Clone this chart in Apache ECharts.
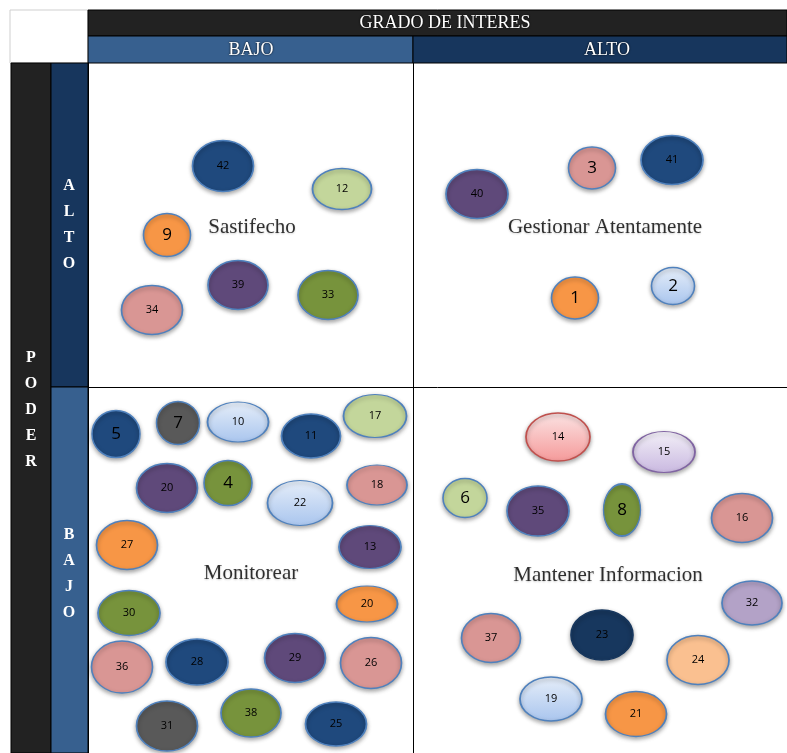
<!DOCTYPE html>
<html>
<head>
<meta charset="utf-8">
<script src="https://cdn.jsdelivr.net/npm/echarts@6/dist/echarts.min.js"></script>
<style>
  html, body { margin: 0; padding: 0; background: #fff; }
  #chart { width: 787px; height: 753px; }
</style>
</head>
<body>
<div id="chart"></div>
<script>
// Stakeholder ids (labels), interest (x) and power (y) scores, colour key
const stakeholderIds = ['42', '12', '9', '39', '33', '34',
  '40', '3', '41', '1', '2',
  '5', '7', '10', '11', '17', '20', '4', '22', '18', '27', '13',
  '20', '30', '36', '28', '29', '26', '31', '38', '25',
  '14', '15', '6', '35', '8', '16', '32', '37', '23', '24', '19', '21'];
const interest = [135, 254, 79, 150, 240, 64,
  389, 504, 584, 487, 585,
  28, 90, 150, 223, 287, 79, 140, 212, 289, 39, 282,
  279, 41, 34, 109, 207, 283, 79, 163, 248,
  470, 576, 377, 450, 534, 654, 664, 403, 514, 610, 463, 548];
const power = [587, 564, 518, 468, 458, 443,
  559, 585, 593, 455, 467,
  319, 330, 331, 317, 337, 265, 270, 250, 268, 208, 206,
  149, 140, 86, 91, 95, 90, 27, 40, 29,
  316, 301, 255, 242, 243, 235, 150, 115, 118, 93, 54, 39];
const colorKeys = ['navy', 'lime', 'orange', 'purple', 'olive', 'pink',
  'purple', 'pink', 'navy', 'orange', 'sky',
  'navy', 'gray', 'sky', 'navy', 'lime', 'purple', 'olive', 'sky', 'pink', 'orange', 'purple',
  'orange', 'olive', 'pink', 'navy', 'purple', 'pink', 'gray', 'olive', 'navy',
  'rose', 'lilac', 'lime', 'purple', 'olive', 'pink', 'lavender', 'pink', 'deepnavy', 'peach', 'sky', 'orange'];

// Quadrant names and where they sit
const quadrantNames = ['Sastifecho', 'Gestionar Atentamente', 'Monitorear', 'Mantener Informacion'];
const quadrantX = [164, 517, 163, 520];
const quadrantY = [526, 526, 180, 178];

// Axis limits and the cut between BAJO / ALTO
const INTEREST_MAX = 699, POWER_MAX = 690;
const INTEREST_CUT = 325, POWER_CUT = 366;

// Ellipse sizes [w, h] (styling)
const ellipseSizes = [[61, 51], [59, 41], [47, 43], [60, 49], [60, 49], [61, 49],
  [62, 49], [47, 42], [62, 49], [47, 42], [43, 37],
  [48, 47], [43, 43], [61, 40], [59, 44], [63, 43], [61, 49], [48, 45], [65, 45], [60, 40], [61, 49], [62, 43],
  [61, 36], [62, 45], [61, 52], [62, 46], [61, 49], [61, 51], [61, 50], [60, 48], [61, 44],
  [64, 48], [62, 41], [44, 39], [62, 50], [37, 52], [61, 49], [60, 44], [59, 49], [62, 50], [62, 49], [62, 44], [61, 45]];

const grad = (a, b) => new echarts.graphic.LinearGradient(0, 0, 0, 1, [
  { offset: 0, color: a }, { offset: 1, color: b }
]);
const palette = {
  navy: '#1F497D',
  deepnavy: '#17375E',
  orange: '#F79646',
  peach: '#FAC090',
  lime: '#C3D69B',
  olive: '#77933C',
  purple: '#5F497A',
  pink: '#D99694',
  gray: '#595959',
  lavender: '#B3A2C7',
  sky: grad('#E6EEF9', '#A9C5EE'),
  rose: grad('#FBE4E4', '#F59A9A'),
  lilac: grad('#F3F0F8', '#C9B8E0')
};
const borders = { rose: '#C0504D', lilac: '#8064A2', deepnavy: '#17375E' };

const points = stakeholderIds.map((id, i) => ({
  name: id,
  value: [interest[i], power[i]],
  symbolSize: ellipseSizes[i],
  itemStyle: {
    color: palette[colorKeys[i]],
    borderColor: borders[colorKeys[i]] || '#4F81BD',
    borderWidth: 1.5
  },
  label: { fontSize: id.length === 1 ? 17 : 11 }
}));

const serif = "'Liberation Serif', 'DejaVu Serif', serif";
const DARK = '#222222', BLUE_LOW = '#37608F', BLUE_HIGH = '#17365D';
const headerText = (text, x, y) => ({
  type: 'text', x, y,
  style: {
    text, fill: '#fff', font: '18px ' + serif, align: 'center', verticalAlign: 'middle',
    textShadowColor: '#000', textShadowBlur: 2
  }
});
const sideText = (text, x, y) => ({
  type: 'text', x, y,
  style: { text, fill: '#fff', font: 'bold 16px ' + serif, lineHeight: 26, align: 'center', verticalAlign: 'middle' }
});

const chart = echarts.init(document.getElementById('chart'), null, { renderer: 'canvas' });

chart.setOption({
  backgroundColor: '#ffffff',
  animation: false,
  grid: { left: 88, top: 63, right: 0, bottom: 0 },
  xAxis: {
    type: 'value', min: 0, max: INTEREST_MAX, position: 'top',
    axisLine: { show: true, lineStyle: { color: '#000', width: 1 } },
    axisTick: { show: false }, axisLabel: { show: false }, splitLine: { show: false }
  },
  yAxis: {
    type: 'value', min: 0, max: POWER_MAX,
    axisLine: { show: true, lineStyle: { color: '#000', width: 1 } },
    axisTick: { show: false }, axisLabel: { show: false }, splitLine: { show: false }
  },
  series: [
    {
      type: 'scatter',
      symbol: 'circle',
      data: points,
      itemStyle: {
        opacity: 1,
        shadowColor: 'rgba(0,0,0,0.35)',
        shadowBlur: 4,
        shadowOffsetY: 2
      },
      label: {
        show: true,
        position: 'inside',
        formatter: (p) => p.name,
        color: '#000',
        fontFamily: "'Open Sans', 'DejaVu Sans', sans-serif"
      },
      markLine: {
        silent: true,
        symbol: 'none',
        label: { show: false },
        lineStyle: { color: '#000', width: 1, type: 'solid' },
        data: [{ xAxis: INTEREST_CUT }, { yAxis: POWER_CUT }]
      },
      z: 3
    },
    {
      type: 'scatter',
      symbolSize: 0,
      silent: true,
      data: quadrantNames.map((n, i) => ({ name: n, value: [quadrantX[i], quadrantY[i]] })),
      label: {
        show: true,
        position: 'inside',
        formatter: (p) => p.name,
        color: '#000',
        fontFamily: serif,
        fontSize: 21,
        textShadowColor: 'rgba(0,0,0,0.25)',
        textShadowBlur: 2,
        textShadowOffsetY: 1
      },
      z: 2
    }
  ],
  graphic: [
    // top-left empty box
    { type: 'rect', shape: { x: 10, y: 10, width: 78, height: 53 }, style: { fill: '#fff', stroke: '#cfcfcf', lineWidth: 1 } },
    // header rows
    { type: 'rect', shape: { x: 88, y: 10, width: 699, height: 26 }, style: { fill: DARK, stroke: '#000', lineWidth: 1 } },
    { type: 'rect', shape: { x: 88, y: 36, width: 325, height: 27 }, style: { fill: BLUE_LOW, stroke: '#000', lineWidth: 1 } },
    { type: 'rect', shape: { x: 413, y: 36, width: 374, height: 27 }, style: { fill: BLUE_HIGH, stroke: '#000', lineWidth: 1 } },
    // left columns
    { type: 'rect', shape: { x: 11, y: 63, width: 40, height: 690 }, style: { fill: DARK, stroke: '#000', lineWidth: 1 } },
    { type: 'rect', shape: { x: 51, y: 63, width: 37, height: 324 }, style: { fill: BLUE_HIGH, stroke: '#000', lineWidth: 1 } },
    { type: 'rect', shape: { x: 51, y: 387, width: 37, height: 366 }, style: { fill: BLUE_LOW, stroke: '#000', lineWidth: 1 } },
    headerText('GRADO DE INTERES', 445, 23),
    headerText('BAJO', 251, 50),
    headerText('ALTO', 607, 50),
    sideText('P\nO\nD\nE\nR', 31, 410),
    sideText('A\nL\nT\nO', 69, 225),
    sideText('B\nA\nJ\nO', 69, 574)
  ]
});
</script>
</body>
</html>
